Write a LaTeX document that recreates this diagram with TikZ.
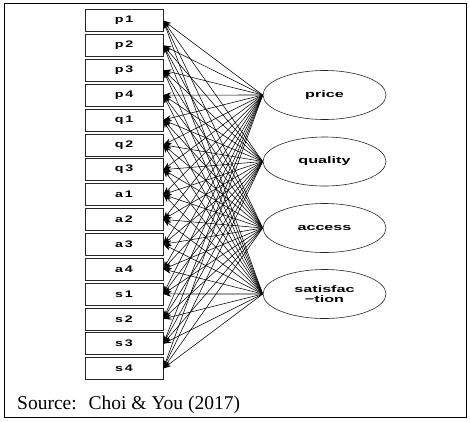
\documentclass[tikz,border=0pt]{standalone}
\usepackage{fontspec}
\setmainfont{Liberation Serif}
\newfontfamily\lab{Liberation Sans}
\usetikzlibrary{arrows.meta,shapes.geometric}
\newcommand\wideb[2]{\scalebox{1.5}[1]{#1\hspace{1.2pt}#2}}
\newcommand\widee[1]{\scalebox{1.7}[1]{#1}}
\begin{document}
\begin{tikzpicture}[x=1pt,y=-1pt,
  ind/.style={draw=black!85,line width=0.6pt,minimum width=78pt,minimum height=22pt,inner sep=0pt,font=\lab\bfseries\fontsize{9.5}{9.5}\selectfont},
  lat/.style={draw=black!85,line width=0.6pt,ellipse,minimum width=123pt,minimum height=49pt,inner sep=0pt,align=center,font=\lab\bfseries\fontsize{9.5}{9.5}\selectfont},
  load/.style={line width=0.55pt,draw=black,-{Stealth[length=8pt,width=5.5pt]}}]
\useasboundingbox (0,0) rectangle (470,421);
\draw[line width=0.8pt] (4,3) rectangle (466,417);
\foreach \a/\b [count=\i from 0] in {p/1,p/2,p/3,p/4,q/1,q/2,q/3,a/1,a/2,a/3,a/4,s/1,s/2,s/3,s/4}{
  \node[ind] (\a\b) at (124,{20.5+24.86*\i}) {\wideb{\a}{\b}};
}
\node[lat] (price) at (324.5,95) {\widee{price}};
\node[lat] (quality) at (324.5,161.5) {\widee{quality}};
\node[lat] (access) at (324.5,228) {\widee{access}};
\node[lat] (satis) at (324.5,294) {\widee{satisfac}\\[1pt]\widee{\textminus tion}};
\foreach \f in {price,quality,access,satis}{
  \foreach \t in {p1,p2,p3,p4,q1,q2,q3,a1,a2,a3,a4,s1,s2,s3,s4}{
    \draw[load] (\f.west) -- (\t.east);
  }
}
\node[anchor=base west,inner sep=0pt,font=\fontsize{19.5}{19.5}\selectfont] (src) at (17,409) {Source:\; Choi \& You (2017)};
\end{tikzpicture}
\end{document}
